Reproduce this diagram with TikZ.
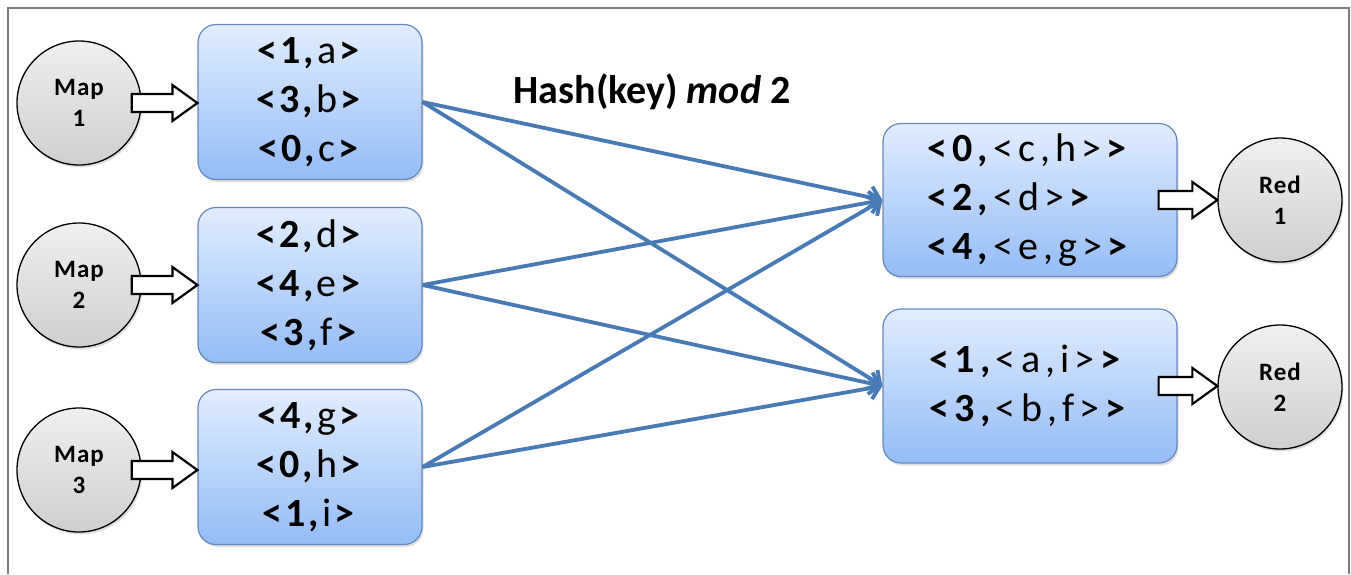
\documentclass[tikz,border=0pt]{standalone}
\usepackage{fontspec}
\setmainfont{Carlito}
\newfontfamily\mapfont[LetterSpace=8]{Carlito}
\newfontfamily\redfont[LetterSpace=13]{Carlito}
\newfontfamily\circfont[LetterSpace=4]{Carlito}
\usetikzlibrary{arrows.meta,shadows,calc}
\definecolor{boxtop}{RGB}{226,237,253}
\definecolor{boxbot}{RGB}{148,188,246}
\definecolor{boxline}{RGB}{100,137,190}
\definecolor{linkblue}{RGB}{72,122,182}
\definecolor{frame}{RGB}{125,125,125}
\tikzset{
  kvbox/.style={draw=boxline, line width=1.2pt, rounded corners=18pt,
    top color=boxtop, bottom color=boxbot, minimum width=224pt, minimum height=155pt,
    inner sep=0pt, drop shadow={shadow xshift=1.5pt, shadow yshift=-2.5pt, opacity=0.25},
    font=\mapfont\fontsize{40}{49}\selectfont},
  redbox/.style={kvbox, minimum width=294pt, align=left,
    font=\redfont\fontsize{40}{49}\selectfont},
  proc/.style={circle, draw=black, line width=1.3pt, top color=gray!12, bottom color=gray!38,
    minimum size=124pt, inner sep=0pt, align=center,
    drop shadow={shadow xshift=1.5pt, shadow yshift=-2.5pt, opacity=0.25},
    font=\circfont\bfseries\fontsize{25}{31}\selectfont},
  link/.style={draw=linkblue, line width=3.8pt, -{Straight Barb[length=10pt,width=22pt,line width=3.8pt]}},
  hollow/.style={draw=black, fill=white, line width=2.2pt, line join=miter},
}
% hollow block arrow between two named anchors: #1 start, #2 tip
\newcommand{\blockarrow}[2]{%
  \path let \p1=(#1), \p2=(#2) in
    [hollow] (\x1,\y1+9pt) -- (\x2-25pt,\y1+9pt) -- (\x2-25pt,\y1+18pt) -- (\x2,\y1)
      -- (\x2-25pt,\y1-18pt) -- (\x2-25pt,\y1-9pt) -- (\x1,\y1-9pt) -- cycle;}
\begin{document}
\begin{tikzpicture}[x=1pt,y=-1pt]
\useasboundingbox (0,0) rectangle (1351,574);
\draw[frame, line width=2pt] (8,574) -- (8,8) -- (1349,8) -- (1349,574);

\node[proc] (m1) at (79,103) {Map\\1};
\node[proc] (m2) at (79,285) {Map\\2};
\node[proc] (m3) at (79,470) {Map\\3};

\node[kvbox, align=center] (b1) at (310,102) {\textbf{<1,}a\textbf{>}\\\textbf{<3,}b\textbf{>}\\\textbf{<0,}c\textbf{>}};
\node[kvbox, align=center] (b2) at (310,285) {\textbf{<2,}d\textbf{>}\\\textbf{<4,}e\textbf{>}\\\textbf{<3,}f\textbf{>}};
\node[kvbox, align=center] (b3) at (310,467) {\textbf{<4,}g\textbf{>}\\\textbf{<0,}h\textbf{>}\\\textbf{<1,}i\textbf{>}};

\node[redbox, minimum height=153pt] (r1) at (1030,200) {\textbf{<0,}<c,h>\textbf{>}\\\textbf{<2,}<d>\textbf{>}\\\textbf{<4,}<e,g>\textbf{>}};
\node[redbox, minimum height=154pt] (r2) at (1030,386) {\textbf{<1,}<a,i>\textbf{>}\\\textbf{<3,}<b,f>\textbf{>}};

\node[proc] (d1) at (1280,200) {Red\\1};
\node[proc] (d2) at (1280,387) {Red\\2};

\node[font=\bfseries\fontsize{40}{46}\selectfont] (h) at (652,92) {Hash(key) \textit{mod} 2};

\foreach \s in {b1,b2,b3}{
  \draw[link] (\s.east) -- (r1.west);
  \draw[link] (\s.east) -- (r2.west);
}

\coordinate (m1s) at ($(m1.east)+(-10,0)$);
\coordinate (m2s) at ($(m2.east)+(-10,0)$);
\coordinate (m3s) at ($(m3.east)+(-10,0)$);
\coordinate (r1s) at ($(r1.east)+(-19,0)$);
\coordinate (r2s) at ($(r2.east)+(-19,0)$);
\blockarrow{m1s}{b1.west}
\blockarrow{m2s}{b2.west}
\blockarrow{m3s}{b3.west}
\blockarrow{r1s}{d1.west}
\blockarrow{r2s}{d2.west}
\end{tikzpicture}
\end{document}
